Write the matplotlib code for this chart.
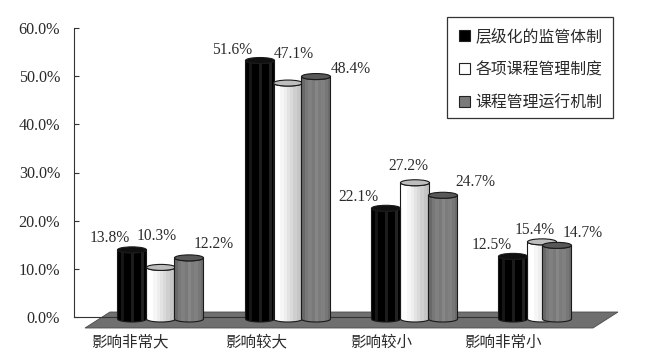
import numpy as np
from matplotlib import pyplot as plt
from matplotlib.patches import Ellipse, PathPatch, Patch, Polygon, Rectangle
from matplotlib.path import Path

## chart data
categories = ["影响非常大", "影响较大", "影响较小", "影响非常小"]
series_names = ["层级化的监管体制", "各项课程管理制度", "课程管理运行机制"]
hierarchy = [13.8, 51.6, 22.1, 12.5]
course_rules = [10.3, 47.1, 27.2, 15.4]
operation = [12.2, 48.4, 24.7, 14.7]
y_ticks = [0, 10, 20, 30, 40, 50, 60]

## layout, all measured in pixels of the 646x356 picture
W, H = 646, 356
AX_LEFT, AX_TOP, AX_BOTTOM = 74, 28, 317
GROUP_STEP = 127
FIRST_GROUP = 161
BAR_W = 29
PX_X = 1 / GROUP_STEP
PX_Y = 60 / (AX_BOTTOM - AX_TOP)
LABEL_SHIFT = [-31, -32, -34, -39]
BAR_SHIFT = [[-29, 0, 28], [-28, 0, 28], [-29, 0, 28], [-29, 0, 15]]
## value label offset from the top of its bar (x, down)
LABEL_OFFSET = [
    [(-22, -12), (-28, -11), (-28, -11), (-21, -11)],
    [(-4, -31), (6, -29), (-7, -17), (-7, -12)],
    [(25, -14), (35, -8), (32, -13), (26, -12)],
]

## each cylinder is shaded with vertical facets
shades = [
    ["#000000", "#161616", "#000000", "#000000", "#1c1c1c", "#000000", "#000000", "#222222", "#000000"],
    ["#ffffff", "#ffffff", "#f6f6f6", "#eeeeee", "#e4e4e4", "#dadada", "#cfcfcf", "#c6c6c6", "#bcbcbc"],
    ["#6a6a6a", "#787878", "#808080", "#7a7a7a", "#868686", "#7c7c7c", "#808080", "#777777", "#6c6c6c"],
]
top_colors = ["#101010", "#bdbdbd", "#585858"]
legend_colors = ["#000000", "#ffffff", "#7a7a7a"]
draw_order = [1, 0, 2]

serif = "Liberation Serif"
cjk = "Noto Sans CJK SC"
text_color = "#2a2a2a"

fig = plt.figure(figsize=(W / 100, H / 100), dpi=100)
ax = fig.add_axes([AX_LEFT / W, 1 - AX_BOTTOM / H, (W - AX_LEFT) / W, (AX_BOTTOM - AX_TOP) / H])
xlim = ((AX_LEFT - FIRST_GROUP) * PX_X, (W - FIRST_GROUP) * PX_X)


def cylinder(x, value, series):
    half = BAR_W * PX_X / 2
    rise = 3 * PX_Y
    base = -2 * PX_Y
    top = base + value * 1.04
    t = np.linspace(np.pi, 2 * np.pi, 30)
    bottom_edge = np.column_stack([x + half * np.cos(t), base + rise * np.sin(t)])
    top_edge = np.column_stack([x + half * np.cos(t[::-1]), top + rise * np.sin(t[::-1])])
    outline = np.vstack([bottom_edge, top_edge, bottom_edge[:1]])
    body = PathPatch(Path(outline), facecolor="none", edgecolor="#1a1a1a", linewidth=0.8,
                     clip_on=False, zorder=5 + series)
    ax.add_patch(body)
    levels = [[int(c[1:3], 16) for c in shades[series]]]
    img = ax.imshow(levels, cmap="gray", vmin=0, vmax=255, aspect="auto", interpolation="nearest",
                    extent=(x - half, x + half, base - rise, top + rise), zorder=4 + series)
    img.set_clip_box(fig.bbox)
    img.set_clip_path(body)
    ax.add_patch(Ellipse((x, top), 2 * half, 2 * rise, facecolor=top_colors[series],
                         edgecolor="#1a1a1a", linewidth=0.8, clip_on=False, zorder=5 + series))
    return top


## floor under the bars
floor = [(85, 328), (110, 312), (618, 312), (593, 328)]
floor_xy = [((px - FIRST_GROUP) * PX_X, (AX_BOTTOM - py) * PX_Y) for px, py in floor]
ax.add_patch(Polygon(floor_xy, closed=True, facecolor="#6f6f6f", edgecolor="#4a4a4a",
                     linewidth=0.6, clip_on=False, zorder=1))

values = [hierarchy, course_rules, operation]
for group in range(len(categories)):
    for s in draw_order:
        x = group + BAR_SHIFT[group][s] * PX_X
        val = values[s][group]
        top = cylinder(x, val, s)
        dx, dy = LABEL_OFFSET[s][group]
        ax.annotate(f"{val:.1f}%", (x, top), xytext=(dx * 0.72, -dy * 0.72), textcoords="offset points",
                    ha="center", va="center", fontsize=11.2, family=serif, color=text_color,
                    annotation_clip=False, zorder=10)

ax.set_xlim(xlim)
ax.set_ylim(0, 60)
ax.set_yticks(y_ticks)
ax.set_yticklabels([f"{v:.1f}%" for v in y_ticks], family=serif, fontsize=11.6, color=text_color)
ax.tick_params(axis="y", direction="in", length=3.5, width=0.8, color="#333333", pad=10)
ax.set_xticks([g + s * PX_X for g, s in enumerate(LABEL_SHIFT)])
ax.set_xticklabels(categories, family=cjk, fontsize=11.2, color=text_color)
ax.tick_params(axis="x", length=0, pad=12)
ax.spines["top"].set_visible(False)
ax.spines["right"].set_visible(False)
ax.spines["left"].set_color("#333333")
ax.spines["bottom"].set_color("#333333")
ax.spines["bottom"].set_bounds(xlim[0], 3 + 29 * PX_X)
ax.spines["bottom"].set_zorder(2)
ax.patch.set_alpha(0)

## legend frame is drawn by hand, the built-in one can't have this padding
ax.add_patch(Rectangle((447 / W, 1 - 118 / H), 166 / W, 101 / H, transform=fig.transFigure,
                       facecolor="white", edgecolor="#333333", linewidth=0.9,
                       clip_on=False, zorder=19))
handles = [Patch(facecolor=c, edgecolor="#222222", linewidth=0.8) for c in legend_colors]
ax.legend(handles, series_names, loc="upper left",
          bbox_to_anchor=(459 / W, 1 - 28 / H), bbox_transform=fig.transFigure,
          prop={"family": cjk, "size": 11.4}, labelcolor=text_color,
          frameon=False, borderaxespad=0, borderpad=0,
          handlelength=0.72, handleheight=0.72, handletextpad=0.3,
          labelspacing=1.02).set_zorder(20)

fig.savefig("out.png", dpi=100)
